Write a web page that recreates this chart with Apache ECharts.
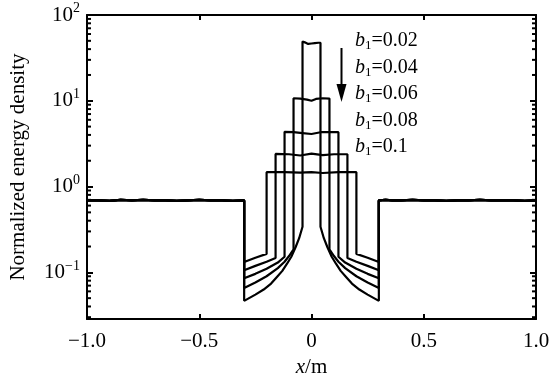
<!DOCTYPE html>
<html><head><meta charset="utf-8">
<script src="https://cdn.jsdelivr.net/npm/echarts@6/dist/echarts.min.js"></script>
<style>html,body{margin:0;padding:0;background:#fff}#c{width:555px;height:383px}</style>
</head><body><div id="c"></div>
<script>
// ---- data ----
const bLabels = ['0.02', '0.04', '0.06', '0.08', '0.1'];
const xTicks = [-1.0, -0.5, 0, 0.5, 1.0];
const minorTickValues = [0.03,0.04,0.05,0.06,0.07,0.08,0.09,
  0.2,0.3,0.4,0.5,0.6,0.7,0.8,0.9, 2,3,4,5,6,7,8,9, 20,30,40,50,60,70,80,90];

// shared outer level (|x| >= 0.3)
const baselineLeft = [[-1,0.69],[-0.95,0.69],[-0.9,0.68],[-0.85,0.70],[-0.8,0.69],[-0.75,0.70],[-0.7,0.69],
  [-0.65,0.69],[-0.6,0.68],[-0.55,0.69],[-0.5,0.70],[-0.45,0.69],[-0.4,0.69],[-0.35,0.68],[-0.3,0.69]];
const baselineRight = [[0.3,0.69],[0.33,0.70],[0.36,0.69],[0.4,0.69],[0.45,0.70],[0.5,0.69],[0.55,0.69],
  [0.6,0.68],[0.65,0.69],[0.7,0.69],[0.75,0.70],[0.8,0.69],[0.85,0.69],[0.9,0.69],[0.95,0.68],[1,0.69]];

// inner region, left side (from x=-0.3 towards the plateau edge)
const inner002 = [[-0.3,0.0465],[-0.25,0.055],[-0.213,0.063],[-0.18,0.074],[-0.153,0.089],[-0.13,0.104],[-0.109,0.126],[-0.09,0.152],[-0.071,0.196],[-0.055,0.25],[-0.04,0.34]];
const inner004 = [[-0.3,0.0658],[-0.25,0.076],[-0.2,0.09],[-0.15,0.112],[-0.12,0.133],[-0.1,0.155],[-0.08,0.185]];
const inner006 = [[-0.3,0.0855],[-0.25,0.096],[-0.2,0.11],[-0.15,0.13],[-0.12,0.152]];
const inner008 = [[-0.3,0.106],[-0.25,0.119],[-0.2,0.133],[-0.16,0.147]];
const inner010 = [[-0.3,0.132],[-0.25,0.148],[-0.2,0.164]];

// central plateaus
const plateau002 = [[-0.04,49],[-0.03,48],[-0.015,46],[0,46.5],[0.015,47],[0.03,47.5],[0.04,47.5]];
const plateau004 = [[-0.08,10.7],[-0.05,10.6],[-0.02,10.3],[0,10.0],[0.02,10.5],[0.05,10.7],[0.08,10.6]];
const plateau006 = [[-0.12,4.35],[-0.08,4.3],[-0.04,4.2],[0,4.1],[0.04,4.3],[0.08,4.3],[0.12,4.3]];
const plateau008 = [[-0.16,2.4],[-0.1,2.38],[-0.05,2.3],[0,2.42],[0.05,2.33],[0.1,2.38],[0.16,2.38]];
const plateau010 = [[-0.2,1.47],[-0.12,1.47],[-0.05,1.45],[0,1.47],[0.05,1.44],[0.12,1.47],[0.2,1.47]];

const inners = [inner002, inner004, inner006, inner008, inner010];
const plateaus = [plateau002, plateau004, plateau006, plateau008, plateau010];

function buildCurve(inner, plateau) {
  const pts = [];
  baselineLeft.forEach(p => pts.push(p));
  inner.forEach(p => pts.push(p));
  plateau.forEach(p => pts.push(p));
  inner.slice().reverse().forEach(p => pts.push([-p[0], p[1]]));
  baselineRight.forEach(p => pts.push(p));
  return pts;
}

const FONT = 'Liberation Serif';
const FS = 21;
const chart = echarts.init(document.getElementById('c'), null, {renderer: 'canvas'});

const expLabel = v => {
  const e = Math.round(Math.log10(v));
  if (Math.abs(Math.log10(v) - e) > 0.01) return '';
  return '{b|10}{e|' + (e < 0 ? '\u2212' + (-e) : e) + '}';
};

const series = inners.map((inner, i) => ({
  type: 'line', name: 'b1=' + bLabels[i],
  data: buildCurve(inner, plateaus[i]),
  showSymbol: false, symbol: 'none',
  lineStyle: {color: '#000', width: 2.2},
  animation: false, z: 3
}));

const axisLine = {show: true, onZero: false, lineStyle: {color: '#000', width: 2}};
const yRich = {
  b: {fontFamily: FONT, fontSize: FS, color: '#000'},
  e: {fontFamily: FONT, fontSize: 14, color: '#000', padding: [0, 0, 13, 0]}
};

const legendGraphics = bLabels.map((lab, i) => ({
  type: 'text', left: 355, top: 31 + i * 26.5,
  style: {
    text: '{i|b}{s|1}{n|=' + lab + '}',
    rich: {
      i: {fontFamily: FONT, fontStyle: 'italic', fontSize: 20, fill: '#000'},
      s: {fontFamily: FONT, fontSize: 13, fill: '#000', padding: [10, 0, 0, 0]},
      n: {fontFamily: FONT, fontSize: 20, fill: '#000'}
    }
  }
}));
const arrowGraphics = [
  {type: 'line', shape: {x1: 341.5, y1: 48, x2: 341.5, y2: 90}, style: {stroke: '#000', lineWidth: 2}},
  {type: 'polygon', shape: {points: [[336.5, 84], [346.5, 84], [341.5, 102]]}, style: {fill: '#000'}}
];

chart.setOption({
  animation: false,
  backgroundColor: '#fff',
  grid: {left: 87, right: 19, top: 15, bottom: 55, containLabel: false},
  xAxis: [{
    type: 'value', min: -1, max: 1, interval: 0.5, position: 'bottom',
    axisLine: axisLine,
    axisTick: {show: true, inside: true, length: 5, lineStyle: {color: '#000', width: 2}},
    splitLine: {show: false},
    axisLabel: {margin: 12, fontFamily: FONT, fontSize: FS, color: '#000',
      formatter: v => {
        const t = xTicks.find(x => Math.abs(x - v) < 1e-9);
        if (t === undefined) return '';
        if (t === 0) return '0';
        return (t < 0 ? '\u2212' : '') + Math.abs(t).toFixed(1);
      }},
    name: '{i|x}{n|/m}', nameLocation: 'middle', nameGap: 37,
    nameTextStyle: {rich: {
      i: {fontFamily: FONT, fontStyle: 'italic', fontSize: FS, color: '#000'},
      n: {fontFamily: FONT, fontSize: FS, color: '#000'}
    }}
  }, {
    type: 'value', min: -1, max: 1, interval: 0.5, position: 'top',
    axisLine: axisLine,
    axisTick: {show: true, inside: true, length: 5, lineStyle: {color: '#000', width: 2}},
    splitLine: {show: false}, axisLabel: {show: false}
  }],
  yAxis: [{
    type: 'log', logBase: 10, min: 0.0285, max: 100, position: 'left',
    axisLine: axisLine,
    axisTick: {show: true, inside: true, length: 6, lineStyle: {color: '#000', width: 2}},
    splitLine: {show: false}, minorTick: {show: false},
    axisLabel: {margin: 7, showMinLabel: false, formatter: expLabel, rich: yRich},
    name: 'Normalized energy density', nameLocation: 'middle', nameGap: 58,
    nameTextStyle: {fontFamily: FONT, fontSize: FS, color: '#000'}
  }, {
    type: 'log', logBase: 10, min: 0.0285, max: 100, position: 'right',
    axisLine: axisLine,
    axisTick: {show: true, inside: true, length: 6, lineStyle: {color: '#000', width: 2}},
    splitLine: {show: false}, axisLabel: {show: false}
  }],
  series: series,
  graphic: legendGraphics.concat(arrowGraphics)
});

// minor ticks of the log axis (left and right frame), placed through the library's scales
const tickGraphics = [];
minorTickValues.forEach(v => {
  const l = chart.convertToPixel({gridIndex: 0}, [-1, v]);
  const r = chart.convertToPixel({gridIndex: 0}, [1, v]);
  if (!l || !r || isNaN(l[1])) return;
  tickGraphics.push({type: 'line', z: 50, silent: true, shape: {x1: l[0], y1: l[1], x2: l[0] + 4, y2: l[1]}, style: {stroke: '#000', lineWidth: 2}});
  tickGraphics.push({type: 'line', z: 50, silent: true, shape: {x1: r[0], y1: r[1], x2: r[0] - 4, y2: r[1]}, style: {stroke: '#000', lineWidth: 2}});
});
chart.setOption({graphic: legendGraphics.concat(arrowGraphics, tickGraphics)});
</script></body></html>
